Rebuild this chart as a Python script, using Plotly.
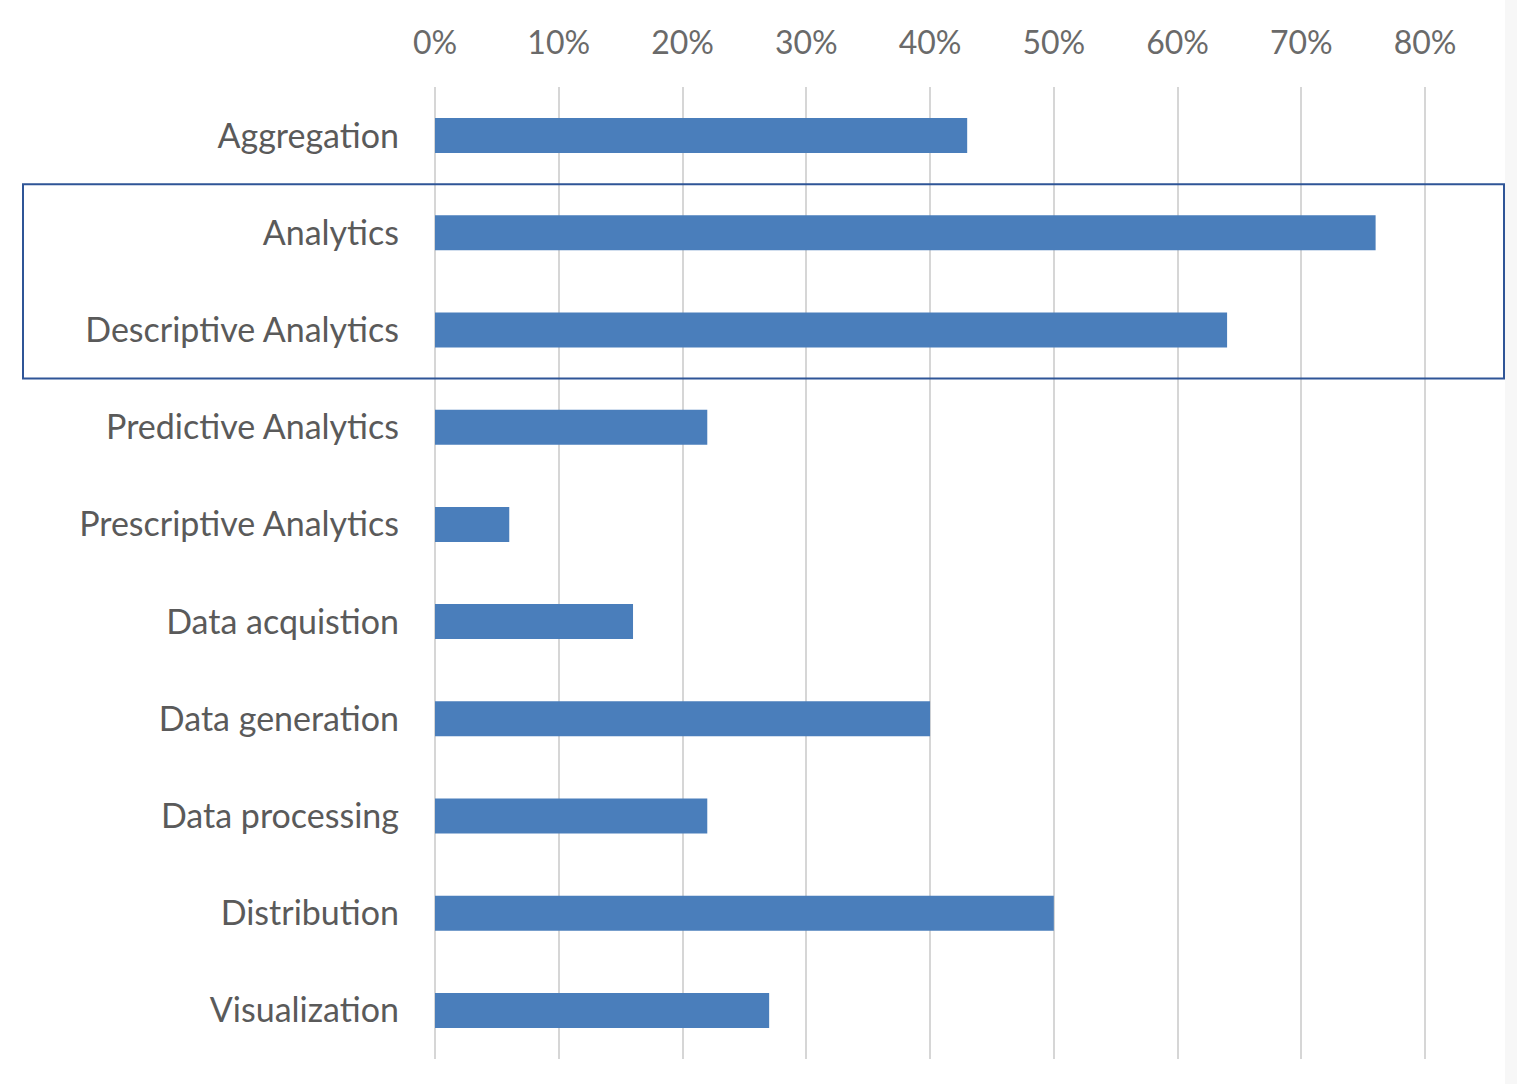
import plotly.graph_objects as go

categories = ["Aggregation", "Analytics", "Descriptive Analytics", "Predictive Analytics",
              "Prescriptive Analytics", "Data acquistion", "Data generation",
              "Data processing", "Distribution", "Visualization"]
values = [0.43, 0.76, 0.64, 0.22, 0.06, 0.16, 0.40, 0.22, 0.50, 0.27]
tick_vals = [0, 0.1, 0.2, 0.3, 0.4, 0.5, 0.6, 0.7, 0.8]
tick_text = ["0%", "10%", "20%", "30%", "40%", "50%", "60%", "70%", "80%"]
highlighted = ["Analytics", "Descriptive Analytics"]

W, H = 1517, 1084
ML, MR, MT, MB = 435, 30, 87, 25
XMAX = 0.85

fig = go.Figure(go.Bar(
    x=values, y=categories, orientation="h",
    marker=dict(color="#4a7ebb", line=dict(width=0)),
    width=0.36,
))

fig.update_layout(
    width=W, height=H,
    margin=dict(l=ML, r=MR, t=MT, b=MB),
    paper_bgcolor="white", plot_bgcolor="white",
    showlegend=False,
    font=dict(family="Lato, Open Sans, sans-serif", color="#5a5a5a", size=34),
)
fig.update_xaxes(
    side="top", range=[0, XMAX], tickvals=tick_vals, ticktext=tick_text,
    showgrid=True, gridcolor="#d6d6d6", gridwidth=2,
    zeroline=True, zerolinecolor="#d6d6d6", zerolinewidth=2,
    showline=False, ticks="", ticklabelstandoff=26,
    tickfont=dict(size=32, color="#6a6a6a"),
)
fig.update_yaxes(
    categoryorder="array", categoryarray=categories, autorange="reversed",
    showgrid=False, zeroline=False, showline=False, ticks="",
    ticklabelstandoff=35, tickfont=dict(size=34, color="#5a5a5a"),
)

# highlight box around the two analytics categories
idx = [categories.index(c) for c in highlighted]
plot_w = W - ML - MR
fig.add_shape(type="rect", xref="paper", yref="y",
              x0=(23 - ML) / plot_w, x1=(1504 - ML) / plot_w,
              y0=min(idx) - 0.5, y1=max(idx) + 0.5,
              line=dict(color="#2f5597", width=2), fillcolor="rgba(0,0,0,0)",
              layer="above")
# light strip at the right edge
fig.add_shape(type="rect", xref="paper", yref="paper",
              x0=(1505 - ML) / plot_w, x1=(W - ML) / plot_w,
              y0=-MB / (H - MT - MB), y1=1 + MT / (H - MT - MB),
              line=dict(width=0), fillcolor="#f7f7f7", layer="below")

fig.write_html("out.html", config={"displayModeBar": False},
               post_script="document.body.style.margin='0';document.body.style.overflow='hidden';")
